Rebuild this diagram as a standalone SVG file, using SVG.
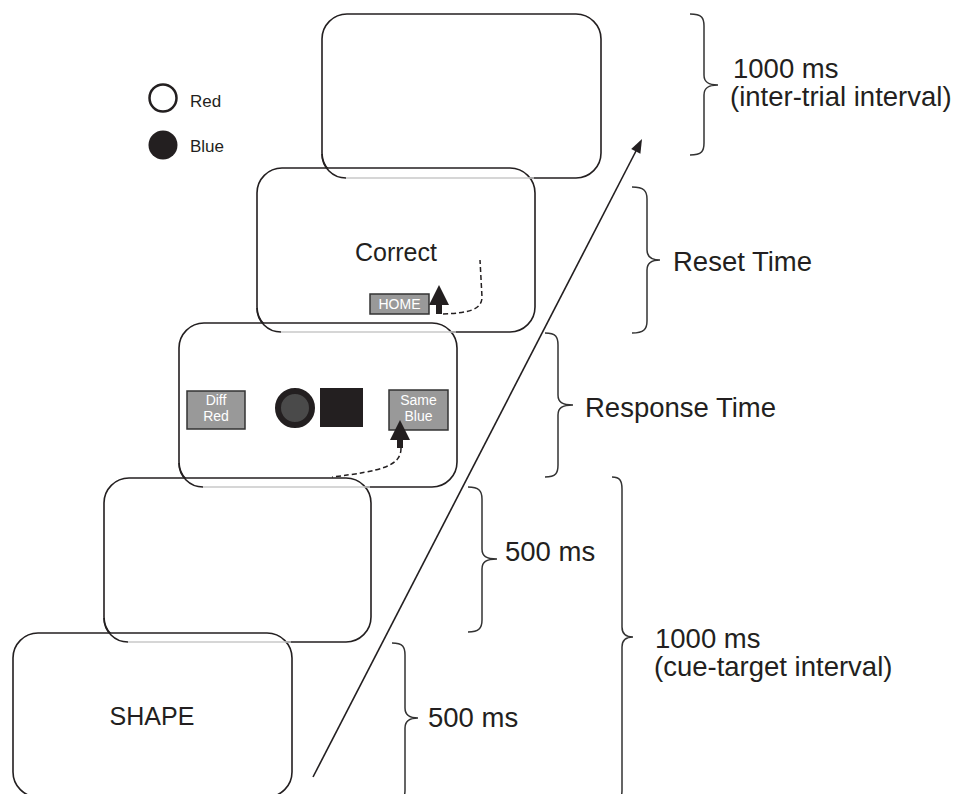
<svg xmlns="http://www.w3.org/2000/svg" width="968" height="794" viewBox="0 0 968 794">
<style>
.panel{fill:#fff;stroke:#231f20;stroke-width:1.6}
.peek{fill:none;stroke:#231f20;stroke-width:1.6}
.shadow{fill:none;stroke:#c8c8c8;stroke-width:1.6}
.brace{fill:none;stroke:#333;stroke-width:1.5}
.lbl{font-family:"Liberation Sans",Arial,sans-serif;font-size:27.5px;fill:#231f20}
.big{font-family:"Liberation Sans",Arial,sans-serif;font-size:25px;fill:#231f20}
.leg{font-family:"Liberation Sans",Arial,sans-serif;font-size:17px;fill:#231f20}
.btn{fill:#999;stroke:#333;stroke-width:1.5}
.btxt{font-family:"Liberation Sans",Arial,sans-serif;font-size:14px;fill:#fff;text-anchor:middle}
.dash{fill:none;stroke:#231f20;stroke-width:1.5;stroke-dasharray:5,3}
</style>
<rect width="968" height="794" fill="#fff"/>

<g id="legend">
<circle cx="163" cy="98" r="13.5" fill="#fff" stroke="#231f20" stroke-width="2.5"/>
<text class="leg" x="190" y="107">Red</text>
<circle cx="163" cy="145" r="14.5" fill="#231f20"/>
<text class="leg" x="190" y="152">Blue</text>
</g>

<g id="panel-iti">
<rect class="panel" x="322" y="14" width="279" height="164" rx="25"/>
</g>
<g id="panel-feedback">
<rect class="panel" x="257" y="168" width="278" height="164" rx="25"/>
<path class="peek" d="M322,154 A24,24 0 0 0 346,178"/>
<line class="shadow" x1="346" y1="178" x2="534" y2="178"/>
<text class="big" x="396" y="261" text-anchor="middle">Correct</text>
<rect class="btn" x="370" y="294" width="59" height="20"/>
<text class="btxt" x="399.5" y="309" font-size="15">HOME</text>
<polygon points="439,285 429,305 449,305" fill="#231f20"/>
<rect x="436" y="303" width="6" height="11" fill="#231f20"/>
<path class="dash" d="M443,314 C468,313 482,310 482,297 L480,260"/>
</g>
<g id="panel-response">
<rect class="panel" x="179" y="323" width="278" height="164" rx="25"/>
<path class="peek" d="M257,308 A24,24 0 0 0 281,332"/>
<line class="shadow" x1="281" y1="332" x2="456" y2="332"/>
<rect class="btn" x="187" y="391" width="58" height="38"/>
<text class="btxt" x="216" y="405">Diff</text>
<text class="btxt" x="216" y="421">Red</text>
<circle cx="295" cy="408" r="17" fill="#4a4a4a" stroke="#231f20" stroke-width="6"/>
<rect x="320" y="388" width="43" height="39" fill="#231f20"/>
<rect class="btn" x="389" y="390" width="59" height="40"/>
<text class="btxt" x="418.5" y="405">Same</text>
<text class="btxt" x="418.5" y="421">Blue</text>
<polygon points="400,420 390,440 410,440" fill="#231f20"/>
<rect x="397" y="438" width="6" height="10" fill="#231f20"/>
<path class="dash" d="M401,448 C401,466 382,471 332,477"/>
</g>
<g id="panel-blank">
<rect class="panel" x="104" y="478" width="267" height="164" rx="25"/>
<path class="peek" d="M179,463 A24,24 0 0 0 203,487"/>
<line class="shadow" x1="203" y1="487" x2="370" y2="487"/>
</g>
<g id="panel-cue">
<rect class="panel" x="13" y="633" width="279" height="164" rx="25"/>
<path class="peek" d="M104,618 A24,24 0 0 0 128,642"/>
<line class="shadow" x1="128" y1="642" x2="291" y2="642"/>
<text class="big" x="152" y="725" text-anchor="middle">SHAPE</text>
</g>

<g id="connectors">
<line x1="313" y1="777" x2="636" y2="151" stroke="#231f20" stroke-width="1.6"/>
<polygon points="642,139 640.4,153.7 631.2,149.1" fill="#231f20"/>
</g>

<g id="braces">
<path class="brace" d="M690,14 C702,14 704,18 704,26 L704,75 C704,82 708,85 718,85 C708,85 704,88 704,95 L704,143 C704,151 702,155 690,155"/>
<path class="brace" d="M632,187 C644,187 647,191 647,199 L647,250 C647,257 651,260 660,260 C651,260 647,263 647,270 L647,321 C647,329 644,333 632,333"/>
<path class="brace" d="M545,333 C556,333 558,337 558,345 L558,395 C558,402 562,405 573,405 C562,405 558,408 558,415 L558,465 C558,473 556,477 545,477"/>
<path class="brace" d="M468,487 C479,487 482,491 482,499 L482,549 C482,556 486,559 497,559 C486,559 482,562 482,569 L482,620 C482,628 479,632 468,632"/>
<path class="brace" d="M392,643 C403,643 405,647 405,655 L405,708 C405,715 409,718 418,718 C409,718 405,721 405,728 L405,790 C405,798 403,802 392,802"/>
<path class="brace" d="M612,477 C620,477 622,481 622,489 L622,627 C622,634 626,637 633,637 C626,637 622,640 622,647 L622,790 C622,798 620,802 612,802"/>
</g>

<g id="labels">
<text class="lbl" x="733" y="78">1000 ms</text>
<text class="lbl" x="730" y="106">(inter-trial interval)</text>
<text class="lbl" x="673" y="271">Reset Time</text>
<text class="lbl" x="585" y="417">Response Time</text>
<text class="lbl" x="505" y="561">500 ms</text>
<text class="lbl" x="428" y="727">500 ms</text>
<text class="lbl" x="655" y="648">1000 ms</text>
<text class="lbl" x="654" y="676">(cue-target interval)</text>
</g>
</svg>
